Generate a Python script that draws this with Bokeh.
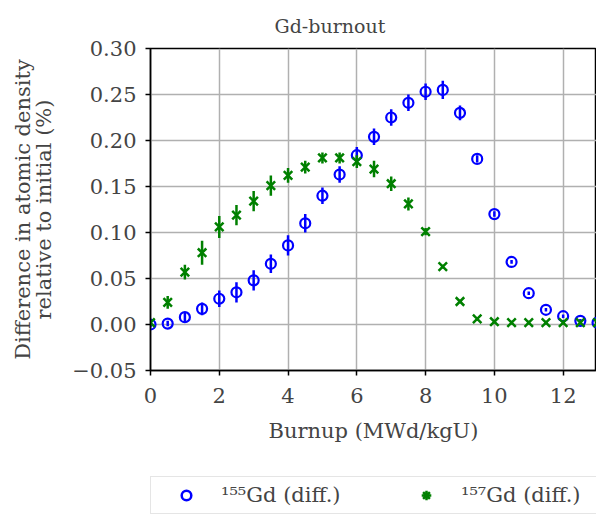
from bokeh.plotting import figure
from bokeh.layouts import column
from bokeh.models import (Range1d, FixedTicker, Legend, LegendItem, ColumnDataSource)
from bokeh.embed import file_html
from bokeh.resources import INLINE

# ---- data ----
burnup = [0, 0.5, 1, 1.5, 2, 2.5, 3, 3.5, 4, 4.5, 5, 5.5, 6, 6.5, 7, 7.5, 8, 8.5,
          9, 9.5, 10, 10.5, 11, 11.5, 12, 12.5, 13]
gd155 = [0.000, 0.001, 0.008, 0.017, 0.028, 0.035, 0.048, 0.066, 0.086, 0.110,
         0.140, 0.163, 0.184, 0.204, 0.225, 0.241, 0.253, 0.255, 0.230, 0.180,
         0.120, 0.068, 0.034, 0.016, 0.009, 0.004, 0.002]
gd155_err = [0.003, 0.003, 0.005, 0.007, 0.009, 0.011, 0.011, 0.010, 0.011, 0.010,
             0.009, 0.009, 0.009, 0.009, 0.009, 0.009, 0.009, 0.010, 0.008, 0.004,
             0.003, 0.002, 0.002, 0.002, 0.002, 0.002, 0.002]
gd157 = [0.002, 0.024, 0.057, 0.078, 0.106, 0.119, 0.134, 0.151, 0.162, 0.171,
         0.181, 0.181, 0.177, 0.169, 0.153, 0.131, 0.101, 0.063, 0.025, 0.006,
         0.003, 0.002, 0.002, 0.002, 0.002, 0.002, 0.002]
gd157_err = [0.003, 0.007, 0.008, 0.013, 0.012, 0.011, 0.011, 0.011, 0.008, 0.007,
             0.006, 0.006, 0.007, 0.009, 0.008, 0.007, 0.004, 0.002, 0.002, 0.002,
             0.002, 0.002, 0.002, 0.002, 0.002, 0.002, 0.002]
x_ticks = [0, 2, 4, 6, 8, 10, 12]
y_ticks = [-0.05, 0.0, 0.05, 0.10, 0.15, 0.20, 0.25, 0.30]
y_tick_labels = ["\u22120.05", "0.00", "0.05", "0.10", "0.15", "0.20", "0.25", "0.30"]
labels = ["\u00b9\u2075\u2075Gd (diff.)", "\u00b9\u2075\u2077Gd (diff.)"]
title_text = "Gd-burnout"
x_label = "Burnup (MWd/kgU)"
y_label = "Difference in atomic density\nrelative to initial (%)"

FONT = "DejaVu Serif"
FS = "21px"
BLUE = "#0000ff"
GREEN = "#008000"

p = figure(width=596, height=476, output_backend="svg", toolbar_location=None,
           x_range=Range1d(0, 12.97), y_range=Range1d(-0.05, 0.30),
           min_border_left=150, min_border_top=46, min_border_bottom=106,
           min_border_right=0)

p.title.text = title_text
p.title.text_font = FONT
p.title.text_font_size = "19px"
p.title.text_font_style = "normal"
p.title.align = "left"
p.title.offset = 124
p.title.standoff = 24

p.outline_line_color = "black"
p.outline_line_width = 1.5
p.background_fill_color = "white"
p.border_fill_color = "white"

for ax in (p.xaxis[0], p.yaxis[0]):
    ax.major_label_text_font = FONT
    ax.major_label_text_font_size = FS
    ax.axis_label_text_font = FONT
    ax.axis_label_text_font_size = FS
    ax.axis_label_text_font_style = "normal"
    ax.axis_label_text_line_height = 0.9
    ax.axis_line_color = "black"
    ax.axis_line_width = 1.5
    ax.major_tick_line_width = 1.5
    ax.major_tick_out = 5
    ax.major_tick_in = 0
    ax.minor_tick_line_color = None

p.xaxis.ticker = FixedTicker(ticks=x_ticks)
p.yaxis.ticker = FixedTicker(ticks=y_ticks)
p.yaxis.major_label_overrides = {t: l for t, l in zip(y_ticks, y_tick_labels)}
p.xaxis.axis_label = x_label
p.yaxis.axis_label = y_label
p.xaxis.major_label_standoff = 12
p.xaxis.axis_label_standoff = 13
p.yaxis.major_label_standoff = 9
p.yaxis.axis_label_standoff = 13

p.grid.grid_line_color = "#b0b0b0"
p.grid.grid_line_width = 1.5

# error bars and markers
s155 = ColumnDataSource(dict(x=burnup, y=gd155,
                             lo=[v - e for v, e in zip(gd155, gd155_err)],
                             hi=[v + e for v, e in zip(gd155, gd155_err)]))
s157 = ColumnDataSource(dict(x=burnup, y=gd157,
                             lo=[v - e for v, e in zip(gd157, gd157_err)],
                             hi=[v + e for v, e in zip(gd157, gd157_err)]))

p.segment(x0="x", y0="lo", x1="x", y1="hi", source=s155, line_color=BLUE, line_width=2.5)
p.scatter(x="x", y="y", source=s155, marker="circle", size=10,
          fill_color=None, line_color=BLUE, line_width=2.2)
p.segment(x0="x", y0="lo", x1="x", y1="hi", source=s157, line_color=GREEN, line_width=2.5)
p.scatter(x="x", y="y", source=s157, marker="x", size=12,
          line_color=GREEN, line_width=2.5)

# ---- legend strip below the plot ----
# its ranges lie away from the data, so its renderers only show up as legend glyphs
lg = figure(width=596, height=60, output_backend="svg", toolbar_location=None,
            x_range=Range1d(-100, -99), y_range=Range1d(-100, -99),
            x_axis_location=None, y_axis_location=None,
            min_border_left=150, min_border_top=0, min_border_bottom=0,
            min_border_right=0)
lg.outline_line_color = None
lg.grid.visible = False
lg.background_fill_color = "white"
lg.border_fill_color = "white"

lc155 = lg.scatter(x="x", y="y", source=s155, marker="circle",
                   size=10, fill_color=None, line_color=BLUE, line_width=2.5)
lc157 = lg.scatter(x="x", y="y", source=s157, marker="asterisk",
                   size=12, line_color=GREEN, line_width=2.5)

legend = Legend(items=[LegendItem(label=labels[0], renderers=[lc155]),
                       LegendItem(label=labels[1], renderers=[lc157])],
                orientation="horizontal", location="top_left", margin=0,
                padding=6, glyph_width=58, glyph_height=24, label_standoff=6,
                label_width=150, spacing=26,
                label_text_font=FONT, label_text_font_size=FS,
                border_line_color="#cccccc", border_line_width=1.5,
                background_fill_color="white", background_fill_alpha=1.0)
lg.add_layout(legend)

open("out.html", "w").write(file_html(column(p, lg, spacing=0), INLINE))
